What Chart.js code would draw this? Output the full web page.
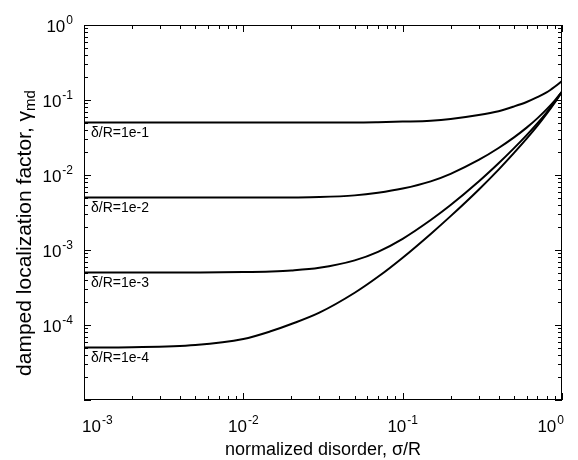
<!DOCTYPE html>
<html>
<head>
<meta charset="utf-8">
<script src="https://cdn.jsdelivr.net/npm/chart.js@4/dist/chart.umd.min.js"></script>
<style>
  html,body{margin:0;padding:0;background:#fff}
  #wrap{width:578px;height:460px}
</style>
</head>
<body>
<div id="wrap"><canvas id="c" width="578" height="460"></canvas></div>
<script>
// normalized disorder sigma/R
const sigma=[0.001,0.002,0.005,0.01,0.015,0.02,0.03,0.05,0.07,0.1,0.15,0.2,0.3,0.4,0.5,0.6,0.7,0.8,0.9,1.0];
// damped localization factor, one series per delta/R
const gamma1=[0.05,0.05,0.05,0.05,0.05,0.05,0.05,0.05,0.0505,0.0515,0.053,0.0558,0.063,0.071,0.082,0.094,0.109,0.126,0.15,0.179];
const gamma2=[0.005,0.005,0.005,0.005,0.005,0.00502,0.00508,0.00535,0.0058,0.0066,0.00823,0.01037,0.01587,0.0229,0.0317,0.0428,0.0569,0.0749,0.0982,0.129];
const gamma3=[5.0e-4,5.0e-4,5.02e-4,5.08e-4,5.18e-4,5.33e-4,5.78e-4,7.28e-4,9.46e-4,1.41e-3,2.51e-3,3.97e-3,8.18e-3,0.01433,0.0228,0.034,0.0488,0.0681,0.0942,0.129];
const gamma4=[5.0e-5,5.05e-5,5.4e-5,6.5e-5,8.3e-5,1.03e-4,1.46e-4,2.69e-4,4.39e-4,7.9e-4,1.64e-3,2.83e-3,6.37e-3,0.0118,0.0197,0.0305,0.0451,0.0652,0.0922,0.129];
const curveLabels=['δ/R=1e-1','δ/R=1e-2','δ/R=1e-3','δ/R=1e-4'];
const xExps=[-3,-2,-1,0];
const yExps=[0,-1,-2,-3,-4];

const FONT='"Liberation Sans", Arial, sans-serif';
const series=[gamma1,gamma2,gamma3,gamma4];

function pts(ys){return sigma.map(function(s,i){return {x:s,y:ys[i]}})}

// ten-to-the-power label, align: 'left' | 'center' | 'right'
function drawPow(ctx,exp,x,y,align){
  ctx.font='17px '+FONT;
  const wb=ctx.measureText('10').width;
  ctx.font='12px '+FONT;
  const ws=ctx.measureText(String(exp)).width;
  const w=wb+ws+1;
  let x0=x;
  if(align==='center')x0=x-w/2;
  else if(align==='right')x0=x-w;
  ctx.textAlign='left';ctx.textBaseline='alphabetic';
  ctx.font='17px '+FONT;
  ctx.fillText('10',x0,y);
  ctx.font='12px '+FONT;
  ctx.fillText(String(exp),x0+wb+1,y-8);
}

const framePlugin={
  id:'frame',
  afterDraw:function(chart){
    const ctx=chart.ctx,a=chart.chartArea;
    const xs=chart.scales.x,ys=chart.scales.y;
    ctx.save();
    ctx.strokeStyle='#000';ctx.fillStyle='#000';ctx.lineWidth=1;
    ctx.strokeRect(a.left+0.5,a.top+0.5,a.right-a.left-1,a.bottom-a.top-1);
    // inward ticks, all four sides
    ctx.beginPath();
    for(let e=-3;e<=0;e++){
      for(let m=1;m<=9;m++){
        const v=m*Math.pow(10,e);
        if(v>1.0001)break;
        const px=Math.round(xs.getPixelForValue(v))+0.5;
        const len=m===1?7:4;
        ctx.moveTo(px,a.bottom);ctx.lineTo(px,a.bottom-len);
        ctx.moveTo(px,a.top);ctx.lineTo(px,a.top+len);
      }
    }
    for(let e=-5;e<=0;e++){
      for(let m=1;m<=9;m++){
        const v=m*Math.pow(10,e);
        if(v>1.0001)break;
        const py=Math.round(ys.getPixelForValue(v))+0.5;
        const len=m===1?7:4;
        ctx.moveTo(a.left,py);ctx.lineTo(a.left+len,py);
        ctx.moveTo(a.right,py);ctx.lineTo(a.right-len,py);
      }
    }
    ctx.stroke();
    // x tick labels
    xExps.forEach(function(e,i){
      const px=xs.getPixelForValue(Math.pow(10,e));
      let al='center',xx=px;
      if(i===0){al='left';xx=px-2}
      if(i===xExps.length-1){al='right';xx=px+2}
      drawPow(ctx,e,xx,432,al);
    });
    // y tick labels
    yExps.forEach(function(e){
      const py=ys.getPixelForValue(Math.pow(10,e));
      drawPow(ctx,e,73,py+7,'right');
    });
    // axis titles
    ctx.font='18px '+FONT;ctx.textAlign='center';ctx.textBaseline='alphabetic';
    ctx.fillText('normalized disorder, σ/R',(a.left+a.right)/2,455);
    ctx.save();
    ctx.translate(31,233);
    ctx.rotate(-Math.PI/2);
    const main='damped localization factor, γ';
    ctx.font='21px '+FONT;
    const wm=ctx.measureText(main).width;
    ctx.font='15px '+FONT;
    const wsub=ctx.measureText('md').width;
    const x0=-(wm+wsub)/2;
    ctx.textAlign='left';
    ctx.font='21px '+FONT;
    ctx.fillText(main,x0,0);
    ctx.font='15px '+FONT;
    ctx.fillText('md',x0+wm,4);
    ctx.restore();
    // curve labels
    ctx.font='14px '+FONT;ctx.textAlign='left';ctx.textBaseline='top';
    series.forEach(function(s,i){
      const py=ys.getPixelForValue(s[0]);
      ctx.fillText(curveLabels[i],a.left+7,py+4);
    });
    ctx.restore();
  }
};

new Chart(document.getElementById('c'),{
  type:'line',
  data:{datasets:series.map(function(s){
    return {data:pts(s),borderColor:'#000',borderWidth:2,pointRadius:0,fill:false,cubicInterpolationMode:'monotone'};
  })},
  options:{
    responsive:false,animation:false,
    layout:{padding:{left:84,top:25,right:16,bottom:60}},
    plugins:{legend:{display:false},tooltip:{enabled:false}},
    scales:{
      x:{type:'logarithmic',min:0.001,max:1,display:false},
      y:{type:'logarithmic',min:1e-5,max:1,display:false}
    }
  },
  plugins:[framePlugin]
});
</script>
</body>
</html>
